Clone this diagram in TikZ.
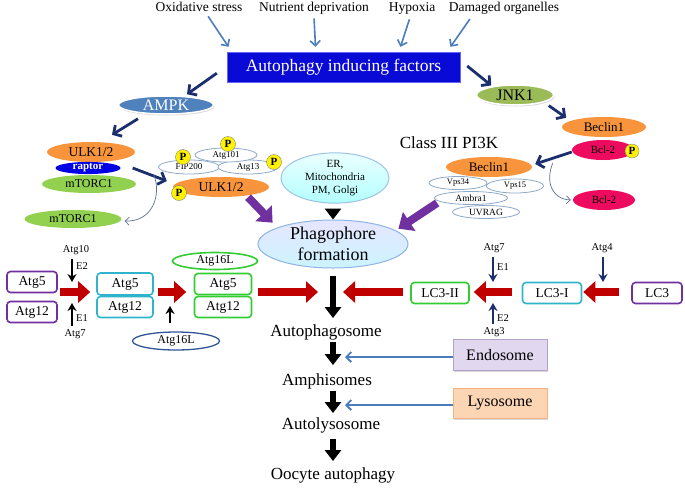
\documentclass[tikz,border=0pt]{standalone}
\usepackage{fontspec}
\setmainfont{Liberation Serif}
\usetikzlibrary{arrows.meta,shapes.geometric,shadows}

\definecolor{steel}{HTML}{4A7EBB}
\definecolor{navy}{HTML}{1B2F6E}
\definecolor{boxblue}{HTML}{0A0AD6}
\definecolor{ampkblue}{HTML}{4F81BD}
\definecolor{jnkgreen}{HTML}{9BBB59}
\definecolor{ulkorange}{HTML}{F7943C}
\definecolor{torgreen}{HTML}{92D050}
\definecolor{raptorblue}{HTML}{0000E6}
\definecolor{bclpink}{HTML}{EC0B5E}
\definecolor{subline}{HTML}{8EA9C8}
\definecolor{arrpurple}{HTML}{7030A0}
\definecolor{arrred}{HTML}{C00000}
\definecolor{boxpurple}{HTML}{7030A0}
\definecolor{boxcyan}{HTML}{2FB4CC}
\definecolor{boxgreen}{HTML}{33CC33}
\definecolor{ovalblue}{HTML}{2F5597}
\definecolor{erline}{HTML}{9DC3E6}
\definecolor{phline}{HTML}{8EB4E3}
\definecolor{endofill}{HTML}{E1D7EE}
\definecolor{endoline}{HTML}{B3A2C7}
\definecolor{lysofill}{HTML}{FCD5B5}
\definecolor{lysoline}{HTML}{F5B183}

\newcommand\fsz[1]{\fontsize{#1}{#1}\selectfont}

\tikzset{
  stim/.style={draw=steel, line width=1.6pt, -{Straight Barb[length=5pt,width=10pt]}},
  sig/.style={draw=navy, line width=2.8pt, -{Straight Barb[length=6pt,width=13pt]}},
  loose/.style={draw=navy!70, line width=0.7pt, -{Straight Barb[length=4pt,width=8pt]}},
  conj/.style={draw=arrred, line width=8.5pt, -{Triangle[length=12pt,width=21pt]}},
  flow/.style={draw=black, line width=6pt, -{Triangle[length=11pt,width=16pt]}},
  feed/.style={draw=arrpurple, line width=8pt, -{Triangle[length=13pt,width=22pt]}},
  enz/.style={line width=1.7pt, -{Stealth[length=8pt,width=9pt]}},
  oval/.style={ellipse, inner sep=0pt},
  sub/.style={oval, draw=subline, fill=white, line width=0.8pt, font=\fsz{9}},
  phos/.style={circle, draw=gray, fill=yellow, inner sep=0pt, minimum size=15pt, font=\bfseries\fsz{11}},
  bx/.style={rectangle, rounded corners=3.5pt, line width=1.6pt, fill=white, minimum width=52pt, minimum height=21pt, inner sep=0pt, font=\fsz{13.5}},
  stage/.style={font=\fsz{17}, inner sep=2pt},
  small/.style={font=\fsz{10.5}, inner sep=1pt},
}

\begin{document}
\begin{tikzpicture}[x=1pt,y=-1pt]
\useasboundingbox (0,0) rectangle (685,488);

% stimuli
\node[font=\fsz{13.5}, anchor=base] (ox) at (199,11) {Oxidative stress};
\node[font=\fsz{13.5}, anchor=base] (nut) at (314,11) {Nutrient deprivation};
\node[font=\fsz{13.5}, anchor=base] (hyp) at (412,11) {Hypoxia};
\node[font=\fsz{13.5}, anchor=base] (dam) at (504,11) {Damaged organelles};
\node[rectangle, fill=boxblue, draw=blue!60, minimum width=233pt, minimum height=30pt, text=white, font=\fsz{17.5}] (aif) at (343.5,67) {Autophagy inducing factors};
\draw[stim, shorten <=2pt] ([xshift=8pt]ox.south) -- ([shift={(-115,-5)}]aif.north);
\draw[stim, shorten <=1pt] (nut.south) -- ([shift={(-28,-5)}]aif.north);
\draw[stim, shorten <=2pt] ([xshift=-2pt]hyp.south) -- ([shift={(57,-5)}]aif.north);
\draw[stim, shorten <=2pt] ([xshift=-33pt]dam.south) -- ([shift={(107,-5)}]aif.north);

% AMPK - mTORC1 - ULK1/2
\node[oval, fill=ampkblue, draw=white, line width=1.5pt, minimum width=95pt, minimum height=18pt, text=white, font=\fsz{16}, drop shadow={opacity=0.3, shadow xshift=1pt, shadow yshift=-1.5pt}] (ampk) at (166,105) {AMPK};
\node[oval, fill=ulkorange, minimum width=88pt, minimum height=20pt, font=\fsz{13.5}] (ulkL) at (91,152) {ULK1/2};
\node[oval, fill=torgreen, minimum width=94pt, minimum height=18pt, font=\fsz{12}] (mtor) at (89,184) {mTORC1};
\node[oval, fill=raptorblue, minimum width=65pt, minimum height=12pt, text=white, font=\bfseries\fsz{11}] (rap) at (88,168) {raptor};
\node[oval, fill=torgreen, minimum width=97pt, minimum height=18pt, font=\fsz{12}] (mtor2) at (73,219) {mTORC1};
\draw[sig] ([shift={(-10,-9)}]aif.south west) -- ([shift={(21,-1)}]ampk.north);
\draw[sig] ([shift={(-28,4)}]ampk.south) -- ([shift={(21,-7)}]ulkL.north);

\node[sub, minimum width=61pt, minimum height=14pt] (fip) at (189,167) {FIP200};
\node[sub, minimum width=60pt, minimum height=14pt] (a13) at (248,167) {Atg13};
\node[sub, minimum width=62pt, minimum height=14pt] (a101) at (226,155) {Atg101};
\node[oval, fill=ulkorange, minimum width=96pt, minimum height=20pt, font=\fsz{13.5}] (ulkR) at (221,187) {ULK1/2};
\node[phos] (pf) at (183,157) {P};
\node[phos] (pa) at (228,144) {P};
\node[phos] (pt) at (274,162) {P};
\node[phos] (pu) at (179,193) {P};
\draw[sig] ([shift={(12,0)}]rap.east) -- ([shift={(-6,-6)}]ulkR.west);
\draw[loose] ([shift={(33,6)}]rap.east) .. controls (162,196) and (152,222) .. ([shift={(3,2)}]mtor2.east);

% membrane sources and phagophore
\node[oval, top color=cyan!8, bottom color=cyan!30, draw=erline, line width=1pt, minimum width=108pt, minimum height=44pt, align=center, font=\fontsize{11}{13}\selectfont] (er) at (335,178) {ER,\\Mitochondria\\PM, Golgi};
\node[oval, top color=blue!10, bottom color=blue!22!cyan!20, draw=phline, line width=1pt, minimum width=150pt, minimum height=48pt, align=center, font=\fontsize{18}{21}\selectfont] (phago) at (333,244) {Phagophore\\formation};
\draw[flow] ([shift={(-2,5)}]er.south) -- (phago.north);
\draw[feed] ([shift={(-7,3)}]ulkR.south east) -- ([shift={(-7,-4)}]phago.north west);

% JNK1 - Beclin1 - Class III PI3K
\node[oval, fill=jnkgreen, draw=white, line width=1.5pt, minimum width=77pt, minimum height=20pt, font=\fsz{16}, drop shadow={opacity=0.3, shadow xshift=1pt, shadow yshift=-1.5pt}] (jnk) at (515,95) {JNK1};
\node[oval, fill=ulkorange, minimum width=84pt, minimum height=20pt, font=\fsz{13}] (becR) at (604,127) {Beclin1};
\node[oval, fill=bclpink, minimum width=62pt, minimum height=20pt, font=\fsz{11}] (bcl) at (603,150) {Bcl-2};
\node[phos, minimum size=14pt] (pb) at (632,151) {P};
\node[oval, fill=bclpink, minimum width=62pt, minimum height=20pt, font=\fsz{11}] (bcl2) at (604,200) {Bcl-2};
\draw[sig] ([shift={(7,-1)}]aif.east) -- ([shift={(4,-2)}]jnk.north west);
\draw[sig] ([shift={(6,3)}]jnk.south east) -- ([shift={(-8,-2)}]becR.north west);

\node[font=\fsz{17}] (pi3k) at (449,143) {Class III PI3K};
\node[sub, minimum width=58pt, minimum height=13pt, font=\fsz{8.5}] (v34) at (458,183) {Vps34};
\node[sub, minimum width=57pt, minimum height=14pt, font=\fsz{8.5}] (v15) at (515,186) {Vps15};
\node[sub, minimum width=73pt, minimum height=13pt, font=\fsz{9.5}] (amb) at (471,198) {Ambra1};
\node[sub, minimum width=67pt, minimum height=13pt, font=\fsz{9.5}] (uvr) at (486,212) {UVRAG};
\node[oval, fill=ulkorange, minimum width=86pt, minimum height=20pt, font=\fsz{13}] (becL) at (489,167) {Beclin1};
\draw[sig] ([shift={(0,2)}]bcl.west) -- ([shift={(3,-3)}]becL.east);
\draw[loose] ([shift={(-19,13)}]bcl.west) .. controls (545,182) and (552,199) .. ([shift={(-2,0)}]bcl2.west);
\draw[feed] ([shift={(3,5)}]amb.west) -- ([shift={(12,2)}]phago.north east);

% Atg5-Atg12 conjugation
\coordinate (mid) at (333,292);
\node[bx, draw=boxpurple, minimum width=50pt] (p5) at (32,282) {Atg5};
\node[bx, draw=boxpurple, minimum width=50pt] (p12) at (32,312) {Atg12};
\node[bx, draw=boxcyan, minimum width=56pt, minimum height=22pt] (c5) at (125,284) {Atg5};
\node[bx, draw=boxcyan, minimum width=56pt] (c12) at (125,307) {Atg12};
\node[oval, draw=boxgreen, line width=1.6pt, minimum width=85pt, minimum height=17pt, font=\fsz{12}] (a16g) at (215,261) {Atg16L};
\node[bx, draw=boxgreen, minimum width=57pt] (g5) at (223,284) {Atg5};
\node[bx, draw=boxgreen, minimum width=57pt] (g12) at (223,307) {Atg12};
\node[oval, draw=ovalblue, line width=1.3pt, minimum width=87pt, minimum height=18pt, font=\fsz{12}] (a16b) at (176,341) {Atg16L};
\draw[conj, shorten <=2pt, shorten >=6pt] (p5.east |- mid) -- (c5.west |- mid);
\draw[conj, shorten <=4pt, shorten >=7.5pt] (c5.east |- mid) -- (g5.west |- mid);
\draw[conj, shorten <=5.5pt, shorten >=15pt] (g5.east |- mid) -- (mid);

\node[small] (a10) at (76,250) {Atg10};
\node[small] (a7l) at (75,334) {Atg7};
\node[small, anchor=west] (e2l) at (75,266) {E2};
\node[small, anchor=west] (e1l) at (75,318) {E1};
\draw[enz, shorten <=3pt, shorten >=10pt] ([xshift=-4pt]a10.south) -- ([xshift=-4pt]a10.south |- mid);
\draw[enz, shorten <=2pt, shorten >=11pt] ([xshift=-3pt]a7l.north) -- ([xshift=-3pt]a7l.north |- mid);
\draw[enz, shorten <=8pt, shorten >=14pt] ([xshift=-6pt]a16b.north) -- ([xshift=-6pt]a16b.north |- mid);

% LC3 lipidation
\node[bx, draw=boxpurple, minimum width=50pt] (lc3) at (657,293) {LC3};
\node[bx, draw=boxcyan, minimum width=59pt] (lc1) at (552,293) {LC3-I};
\node[bx, draw=boxgreen, minimum width=58pt] (lc2) at (440,293) {LC3-II};
\draw[conj, shorten <=12pt, shorten >=1pt] (lc3.west |- mid) -- (lc1.east |- mid);
\draw[conj, shorten <=10pt, shorten >=4pt] (lc1.west |- mid) -- (lc2.east |- mid);
\draw[conj, shorten <=7pt, shorten >=10pt] (lc2.west |- mid) -- (mid);

\node[small] (a7r) at (494,248) {Atg7};
\node[small] (a3) at (494,332) {Atg3};
\node[small] (a4) at (602,248) {Atg4};
\node[small, anchor=west] (e1r) at (496,267) {E1};
\node[small, anchor=west] (e2r) at (496,318) {E2};
\draw[enz, navy, shorten <=3pt, shorten >=10pt] ([xshift=-1pt]a7r.south) -- ([xshift=-1pt]a7r.south |- mid);
\draw[enz, navy, shorten <=2pt, shorten >=11pt] ([xshift=-1pt]a3.north) -- ([xshift=-1pt]a3.north |- mid);
\draw[enz, navy, shorten <=3pt, shorten >=10pt] ([xshift=1pt]a4.south) -- ([xshift=1pt]a4.south |- mid);

% maturation
\node[stage] (aps) at (326,332) {Autophagosome};
\node[stage] (amp) at (327,381) {Amphisomes};
\node[stage] (alys) at (331,425) {Autolysosome};
\node[stage] (ooc) at (333,475) {Oocyte autophagy};
\draw[flow, shorten <=7pt, shorten >=4pt] (phago.south) -- (phago.south |- aps.north);
\draw[flow, shorten >=6pt] (aps.south -| mid) -- (amp.north -| mid);
\draw[flow, shorten >=2pt] (amp.south -| mid) -- (alys.north -| mid);
\draw[flow, shorten <=4pt, shorten >=4pt] (alys.south -| mid) -- (ooc.north -| mid);

\node[rectangle, fill=endofill, draw=endoline, line width=1pt, minimum width=94pt, minimum height=31pt, font=\fsz{16}, drop shadow={opacity=0.3, shadow xshift=1pt, shadow yshift=-1.5pt}] (endo) at (500,355) {Endosome};
\node[rectangle, fill=lysofill, draw=lysoline, line width=1pt, minimum width=94pt, minimum height=30pt, font=\fsz{16}, drop shadow={opacity=0.3, shadow xshift=1pt, shadow yshift=-1.5pt}] (lyso) at (500,403) {Lysosome};
\draw[stim, line width=1.8pt, shorten >=12pt] ([yshift=-2pt]endo.west) -- ([yshift=-2pt]endo.west -| mid);
\draw[stim, line width=1.8pt, shorten >=12pt] ([yshift=-2pt]lyso.west) -- ([yshift=-2pt]lyso.west -| mid);
\end{tikzpicture}
\end{document}
